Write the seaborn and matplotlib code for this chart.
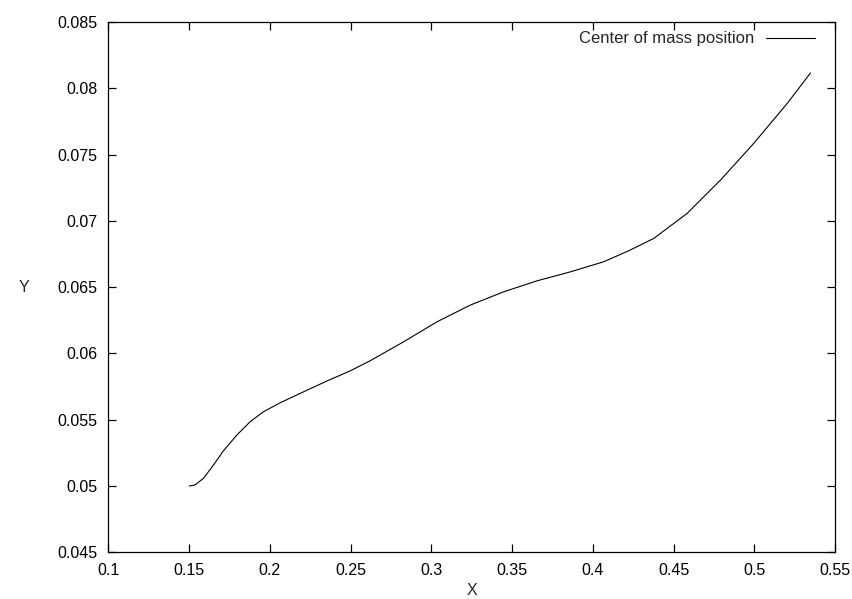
import numpy as np
import pandas as pd
import seaborn as sns
import matplotlib
matplotlib.use("Agg")
import matplotlib.pyplot as plt

# values
x_vals = [0.1502, 0.1537, 0.1589, 0.1651, 0.1713, 0.1796, 0.1878, 0.1960, 0.2064,
          0.2188, 0.2353, 0.2496, 0.2621, 0.2828, 0.3035, 0.3241, 0.3447, 0.3654,
          0.3861, 0.4067, 0.4222, 0.4377, 0.4584, 0.4790, 0.4996, 0.5203, 0.5348]
y_vals = [0.05000, 0.05008, 0.05058, 0.05158, 0.05266, 0.05385, 0.05485, 0.05560,
          0.05628, 0.05699, 0.05792, 0.05868, 0.05945, 0.06088, 0.06239, 0.06365,
          0.06465, 0.06548, 0.06616, 0.06692, 0.06775, 0.06868, 0.07057, 0.07308,
          0.07585, 0.07886, 0.08117]
series_name = "Center of mass position"

x_ticks = [0.1, 0.15, 0.2, 0.25, 0.3, 0.35, 0.4, 0.45, 0.5, 0.55]
y_ticks = [0.045, 0.05, 0.055, 0.06, 0.065, 0.07, 0.075, 0.08, 0.085]

sns.set_style("ticks")
plt.rcParams['font.family'] = ['Liberation Sans', 'DejaVu Sans']

df = pd.DataFrame({"X": x_vals, "Y": y_vals, "s": series_name})

fig = plt.figure(figsize=(8.53, 5.99), dpi=100)
ax = fig.add_axes([0.127, 0.078, 0.852, 0.885])

sns.lineplot(data=df, x="X", y="Y", hue="s", palette=["black"], lw=0.8,
             ax=ax, estimator=None, sort=False)

ax.set_xlim(0.1, 0.55)
ax.set_ylim(0.045, 0.085)
ax.set_xticks(x_ticks)
ax.set_yticks(y_ticks)
ax.set_xticklabels([f"{t:g}" for t in x_ticks])
ax.set_yticklabels([f"{t:g}" for t in y_ticks])
ax.tick_params(direction="in", length=6, width=0.9, top=True, right=True,
               labelsize=11.5, pad=8, colors="black")
for sp in ax.spines.values():
    sp.set_visible(True)
    sp.set_linewidth(0.9)
    sp.set_color("black")

ax.set_xlabel("X", fontsize=11.5, labelpad=3)
ax.set_ylabel("Y", fontsize=11.5, rotation=0, labelpad=0, va="center")
ax.yaxis.set_label_coords(-0.116, 0.5)

leg = ax.legend(loc="upper right", bbox_to_anchor=(0.981, 0.995), frameon=False,
                fontsize=12, markerfirst=False, handlelength=2.9,
                borderaxespad=0, handletextpad=0.7)
leg.set_title(None)

fig.savefig("out.png", dpi=100)
